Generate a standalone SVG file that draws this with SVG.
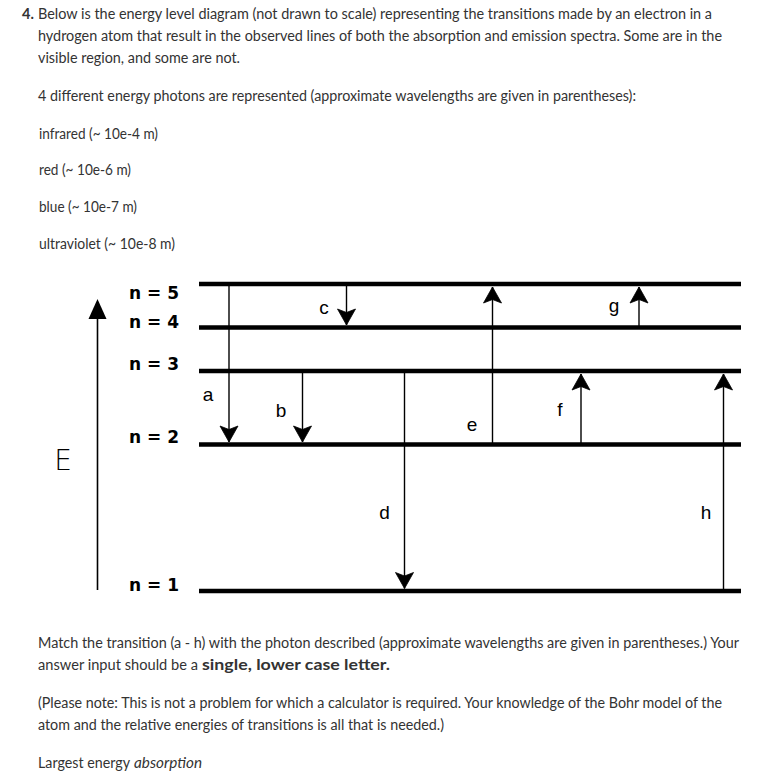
<svg xmlns="http://www.w3.org/2000/svg" width="784" height="776" viewBox="0 0 784 776">
<style>
.t{font-family:Lato,"Liberation Sans",sans-serif;font-size:14.5px;fill:#333}
.b{font-weight:bold}
.i{font-style:italic}
.lv{stroke:#000;stroke-width:4.5}
.tr{stroke:#000;stroke-width:1.4;fill:none}
.nl{font-family:"DejaVu Sans",sans-serif;font-weight:bold;font-size:17px;fill:#000}
.lb{font-family:"Liberation Sans",sans-serif;font-size:19px;fill:#000;text-anchor:middle}
</style>
<defs>
<marker id="ah" markerUnits="userSpaceOnUse" markerWidth="20" markerHeight="20" viewBox="-17 -10 18 20" refX="0" refY="0" orient="auto">
<path d="M0,0 L-16,-9 L-12.5,0 L-16,9 Z" fill="#000" stroke="#000" stroke-width="0.8" stroke-linejoin="miter"/>
</marker>
</defs>
<rect width="784" height="776" fill="#fff"/>
<g id="question-text">
<text class="t b" x="22" y="19">4.</text>
<text class="t" x="38" y="19" textLength="674" lengthAdjust="spacingAndGlyphs">Below is the energy level diagram (not drawn to scale) representing  the transitions made by an electron in a</text>
<text class="t" x="38" y="41" textLength="684" lengthAdjust="spacingAndGlyphs">hydrogen atom that result in  the observed lines of both the absorption and emission spectra. Some are  in the</text>
<text class="t" x="38" y="63" textLength="202" lengthAdjust="spacingAndGlyphs">visible region, and some are not.</text>
<text class="t" x="38" y="101" textLength="598" lengthAdjust="spacingAndGlyphs">4 different energy photons are represented (approximate wavelengths are given in parentheses):</text>
<text class="t" x="39" y="139" textLength="119" lengthAdjust="spacingAndGlyphs">infrared (~ 10e-4 m)</text>
<text class="t" x="39" y="175" textLength="92" lengthAdjust="spacingAndGlyphs">red (~ 10e-6 m)</text>
<text class="t" x="39" y="212" textLength="98" lengthAdjust="spacingAndGlyphs">blue (~ 10e-7 m)</text>
<text class="t" x="39" y="249" textLength="136" lengthAdjust="spacingAndGlyphs">ultraviolet (~ 10e-8 m)</text>
<text class="t" x="38" y="648" textLength="701" lengthAdjust="spacingAndGlyphs">Match  the transition (a - h) with the photon described (approximate  wavelengths are given in parentheses.) Your</text>
<text class="t" x="38" y="670" textLength="160" lengthAdjust="spacingAndGlyphs">answer input should be a</text>
<text class="t b" x="202" y="670" textLength="188" lengthAdjust="spacingAndGlyphs">single, lower case letter.</text>
<text class="t" x="38" y="708" textLength="684" lengthAdjust="spacingAndGlyphs">(Please note: This is not a problem for  which a calculator is required. Your knowledge of the Bohr model of the</text>
<text class="t" x="38" y="730" textLength="406" lengthAdjust="spacingAndGlyphs">atom and the relative energies of transitions is all that is needed.)</text>
<text class="t" x="38" y="768" textLength="92" lengthAdjust="spacingAndGlyphs">Largest energy</text>
<text class="t i" x="134" y="768" textLength="68" lengthAdjust="spacingAndGlyphs">absorption</text>
</g>
<g id="axis">
<line x1="97.5" y1="590" x2="97.5" y2="318" stroke="#000" stroke-width="1.6"/>
<path d="M97.5,299 L106.5,319 L88.5,319 Z" fill="#000"/>
<text x="63" y="470" font-family="DejaVu Sans, sans-serif" font-weight="200" font-size="28" fill="#000" text-anchor="middle">E</text>
</g>
<g id="level-n5"><line class="lv" x1="199" y1="284" x2="741" y2="284"/><text class="nl" x="129" y="299">n = 5</text></g>
<g id="level-n4"><line class="lv" x1="199" y1="327.5" x2="741" y2="327.5"/><text class="nl" x="129" y="328">n = 4</text></g>
<g id="level-n3"><line class="lv" x1="199" y1="371" x2="741" y2="371"/><text class="nl" x="129" y="370">n = 3</text></g>
<g id="level-n2"><line class="lv" x1="199" y1="444.5" x2="741" y2="444.5"/><text class="nl" x="129" y="443">n = 2</text></g>
<g id="level-n1"><line class="lv" x1="199" y1="591" x2="741" y2="591"/><text class="nl" x="129" y="591">n = 1</text></g>
<g id="connectors">
<line class="tr" x1="229" y1="284" x2="229" y2="442" marker-end="url(#ah)"/>
<line class="tr" x1="302.5" y1="371" x2="302.5" y2="442" marker-end="url(#ah)"/>
<line class="tr" x1="346.5" y1="284" x2="346.5" y2="325" marker-end="url(#ah)"/>
<line class="tr" x1="404.5" y1="371" x2="404.5" y2="588.5" marker-end="url(#ah)"/>
<line class="tr" x1="492.5" y1="444" x2="492.5" y2="287" marker-end="url(#ah)"/>
<line class="tr" x1="581" y1="444" x2="581" y2="374" marker-end="url(#ah)"/>
<line class="tr" x1="639" y1="327" x2="639" y2="287" marker-end="url(#ah)"/>
<line class="tr" x1="723.5" y1="591" x2="723.5" y2="374" marker-end="url(#ah)"/>
</g>
<g id="labels">
<text class="lb" x="208" y="401">a</text>
<text class="lb" x="281" y="417">b</text>
<text class="lb" x="324" y="314">c</text>
<text class="lb" x="384.5" y="519">d</text>
<text class="lb" x="472" y="431">e</text>
<text class="lb" x="560" y="416">f</text>
<text class="lb" x="614" y="312">g</text>
<text class="lb" x="706" y="519">h</text>
</g>
</svg>
